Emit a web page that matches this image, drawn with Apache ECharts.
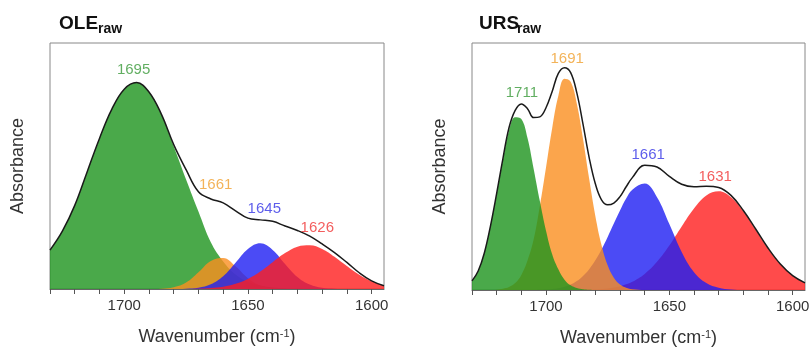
<!DOCTYPE html>
<html>
<head>
<meta charset="utf-8">
<script src="https://cdn.jsdelivr.net/npm/echarts@6/dist/echarts.min.js"></script>
<style>
  html, body { margin: 0; padding: 0; background: #fff; }
  #chart { width: 812px; height: 347px; }
</style>
</head>
<body>
<div id="chart"></div>
<script>
// ---- data -------------------------------------------------------------
// OLE raw spectrum: wavenumber grid (cm-1), fitted amide I components, envelope
const oleWavenumbers = [1730, 1725, 1720, 1715, 1710, 1705, 1700, 1695, 1690, 1685,
                        1680, 1675, 1670, 1665, 1660, 1655, 1650, 1645, 1640, 1635,
                        1630, 1625, 1620, 1615, 1610, 1605, 1600, 1595];
const ole1695 = [0.158, 0.235, 0.340, 0.476, 0.612, 0.731, 0.812, 0.839, 0.801, 0.710,
                 0.580, 0.445, 0.315, 0.190, 0.112, 0.059, 0.029, 0.014, 0.006, 0.002,
                 0.001, 0, 0, 0, 0, 0, 0, 0];
const ole1661 = [0, 0, 0, 0, 0, 0, 0, 0, 0, 0.001,
                 0.007, 0.026, 0.068, 0.114, 0.126, 0.092, 0.044, 0.014, 0.003, 0,
                 0, 0, 0, 0, 0, 0, 0, 0];
const ole1645 = [0, 0, 0, 0, 0, 0, 0, 0, 0, 0,
                 0, 0.001, 0.005, 0.019, 0.052, 0.107, 0.163, 0.186, 0.159, 0.102,
                 0.049, 0.018, 0.005, 0.001, 0, 0, 0, 0];
const ole1626 = [0, 0, 0, 0, 0, 0, 0, 0, 0, 0,
                 0, 0, 0.001, 0.004, 0.009, 0.021, 0.041, 0.071, 0.109, 0.146,
                 0.172, 0.178, 0.163, 0.131, 0.093, 0.058, 0.032, 0.015];
const oleEnvelope = [0.158, 0.235, 0.340, 0.476, 0.612, 0.731, 0.812, 0.839, 0.801, 0.711,
                     0.587, 0.485, 0.395, 0.366, 0.350, 0.318, 0.288, 0.281, 0.275, 0.256,
                     0.238, 0.215, 0.183, 0.148, 0.108, 0.066, 0.033, 0.013];
const oleBands = [1695, 1661, 1645, 1626];

// URS raw spectrum: finer grid across the two narrow high-wavenumber bands
const ursWavenumbers = [1730, 1727.5, 1725, 1722.5, 1720, 1717.5, 1715, 1712.5, 1710, 1707.5,
                        1705, 1702.5, 1700, 1697.5, 1695, 1692.5, 1690, 1687.5, 1685, 1682.5,
                        1680, 1677.5, 1675, 1672.5, 1670, 1667.5, 1665,
                        1660, 1655, 1650, 1645, 1640, 1635, 1630, 1625, 1620,
                        1615, 1610, 1605, 1600, 1595];
const urs1711 = [0.037, 0.077, 0.150, 0.260, 0.390, 0.525, 0.645, 0.699, 0.692, 0.615,
                 0.490, 0.360, 0.240, 0.145, 0.084, 0.042, 0.019, 0.008, 0.003, 0.001,
                 0, 0, 0, 0, 0, 0, 0,
                 0, 0, 0, 0, 0, 0, 0, 0, 0,
                 0, 0, 0, 0, 0];
const urs1691 = [0, 0, 0, 0, 0.001, 0.005, 0.012, 0.028, 0.061, 0.119,
                 0.205, 0.340, 0.496, 0.655, 0.786, 0.855, 0.843, 0.754, 0.612, 0.450,
                 0.300, 0.182, 0.100, 0.050, 0.022, 0.009, 0.003,
                 0, 0, 0, 0, 0, 0, 0, 0, 0,
                 0, 0, 0, 0, 0];
const urs1661 = [0, 0, 0, 0, 0, 0, 0, 0, 0, 0,
                 0, 0.001, 0.002, 0.004, 0.007, 0.013, 0.022, 0.036, 0.057, 0.084,
                 0.120, 0.164, 0.215, 0.269, 0.322, 0.370, 0.406,
                 0.431, 0.376, 0.267, 0.154, 0.072, 0.028, 0.009, 0.002, 0,
                 0, 0, 0, 0, 0];
const urs1631 = [0, 0, 0, 0, 0, 0, 0, 0, 0, 0,
                 0, 0, 0, 0, 0, 0, 0, 0, 0, 0.001,
                 0.002, 0.004, 0.006, 0.010, 0.015, 0.023, 0.033,
                 0.065, 0.114, 0.180, 0.257, 0.330, 0.383, 0.400, 0.376, 0.319,
                 0.244, 0.168, 0.104, 0.058, 0.029];
const ursEnvelope = [0.037, 0.077, 0.150, 0.260, 0.391, 0.530, 0.657, 0.727, 0.753, 0.734,
                     0.698, 0.701, 0.738, 0.804, 0.877, 0.900, 0.880, 0.798, 0.672, 0.536,
                     0.430, 0.365, 0.345, 0.352, 0.378, 0.418, 0.455,
                     0.505, 0.498, 0.460, 0.428, 0.418, 0.420, 0.415, 0.383, 0.322,
                     0.247, 0.170, 0.105, 0.058, 0.029];
const ursBands = [1711, 1691, 1661, 1631];

// Axis ticks and labels (cm-1)
const tickMarks = [1600, 1610, 1620, 1630, 1640, 1650, 1660, 1670, 1680, 1690, 1700, 1710, 1720, 1730];
const tickLabels = [1600, 1650, 1700];

// ---- styling ----------------------------------------------------------
const FONT = '"Liberation Sans", Arial, sans-serif';
const GREEN = 'rgba(29,147,29,0.8)';
const ORANGE = 'rgba(250,142,31,0.8)';
const BLUE = 'rgba(30,30,242,0.8)';
const RED = 'rgba(255,30,30,0.8)';
const TXT = { green: '#3a9a3a', orange: '#f0a030', blue: '#3434e6', red: '#f03434' };

// label anchor heights (axis fraction) and pixel nudges for the band labels
const oleLabelLayout = [[0.89, -3], [0.423, -5], [0.325, 4], [0.248, 10]];
const ursLabelLayout = [[0.80, 3], [0.935, -1], [0.547, 6], [0.459, -1]];

function pairs(xs, values) {
  return xs.map((w, i) => [w, values[i]]);
}

function band(xs, values, color, idx) {
  return {
    type: 'line', xAxisIndex: idx, yAxisIndex: idx,
    data: pairs(xs, values), smooth: 0.4,
    symbol: 'none', clip: true, silent: true,
    lineStyle: { width: 0 },
    areaStyle: { color: color, opacity: 1 }
  };
}

function envelope(xs, values, idx) {
  return {
    type: 'line', xAxisIndex: idx, yAxisIndex: idx,
    data: pairs(xs, values), smooth: 0.4,
    symbol: 'none', clip: true, silent: true,
    lineStyle: { color: '#1a1a1a', width: 1.5 }
  };
}

function bandLabels(bands, layout, colors, idx) {
  return {
    type: 'scatter', xAxisIndex: idx, yAxisIndex: idx,
    symbolSize: 0, silent: true, z: 5,
    data: bands.map((b, i) => ({
      value: [b, layout[i][0]],
      label: {
        show: true, position: 'inside', offset: [layout[i][1], 0],
        formatter: String(b), color: colors[i],
        fontSize: 15, fontFamily: FONT
      }
    }))
  };
}

function xAxis(idx) {
  return {
    gridIndex: idx, type: 'value', inverse: true, min: 1595, max: 1730,
    axisLine: { show: true, onZero: false, lineStyle: { color: '#666', width: 1 } },
    axisTick: { show: true, inside: false, length: 5, customValues: tickMarks,
                lineStyle: { color: '#555' } },
    axisLabel: { customValues: tickLabels, fontSize: 15, color: '#333',
                 fontFamily: FONT, margin: 9, formatter: v => String(v) },
    splitLine: { show: false },
    name: '{a|Wavenumber (cm}{b|-1}{a|)}',
    nameLocation: 'middle', nameGap: 39,
    nameTextStyle: {
      rich: {
        a: { fontSize: 18, color: '#333', fontFamily: FONT },
        b: { fontSize: 11, color: '#333', fontFamily: FONT, verticalAlign: 'top' }
      }
    }
  };
}

function yAxis(idx) {
  return {
    gridIndex: idx, type: 'value', min: 0, max: 1,
    axisLine: { show: false }, axisTick: { show: false },
    axisLabel: { show: false }, splitLine: { show: false },
    name: 'Absorbance', nameLocation: 'middle', nameGap: 23, nameRotate: 90,
    nameTextStyle: { fontSize: 18, color: '#333', fontFamily: FONT }
  };
}

function title(x, main) {
  return [
    { type: 'text', x: x, y: 23.5,
      style: { text: main, font: 'bold 19px ' + FONT, fill: '#111', verticalAlign: 'middle' } },
    { type: 'text', x: x + (main === 'OLE' ? 39 : 38), y: 29.5,
      style: { text: 'raw', font: 'bold 14px ' + FONT, fill: '#111', verticalAlign: 'middle' } }
  ];
}

const chart = echarts.init(document.getElementById('chart'), null, { renderer: 'canvas' });
chart.setOption({
  animation: false,
  backgroundColor: '#fff',
  grid: [
    { left: 50, top: 43, width: 334, height: 246, show: true, borderColor: '#888', borderWidth: 1,
      outerBoundsMode: 'none', containLabel: false },
    { left: 472, top: 43, width: 333, height: 247, show: true, borderColor: '#888', borderWidth: 1,
      outerBoundsMode: 'none', containLabel: false }
  ],
  xAxis: [xAxis(0), xAxis(1)],
  yAxis: [yAxis(0), yAxis(1)],
  graphic: [...title(59, 'OLE'), ...title(479, 'URS')],
  series: [
    band(oleWavenumbers, ole1695, GREEN, 0),
    band(oleWavenumbers, ole1661, ORANGE, 0),
    band(oleWavenumbers, ole1645, BLUE, 0),
    band(oleWavenumbers, ole1626, RED, 0),
    envelope(oleWavenumbers, oleEnvelope, 0),
    bandLabels(oleBands, oleLabelLayout, [TXT.green, TXT.orange, TXT.blue, TXT.red], 0),

    band(ursWavenumbers, urs1631, RED, 1),
    band(ursWavenumbers, urs1661, BLUE, 1),
    band(ursWavenumbers, urs1691, ORANGE, 1),
    band(ursWavenumbers, urs1711, GREEN, 1),
    envelope(ursWavenumbers, ursEnvelope, 1),
    bandLabels(ursBands, ursLabelLayout, [TXT.green, TXT.orange, TXT.blue, TXT.red], 1)
  ]
});
</script>
</body>
</html>
